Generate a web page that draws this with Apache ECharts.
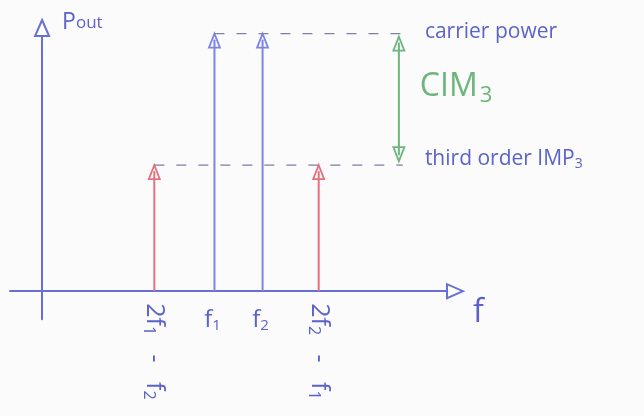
<!DOCTYPE html>
<html>
<head>
<meta charset="utf-8">
<script src="https://cdn.jsdelivr.net/npm/echarts@6/dist/echarts.min.js"></script>
<style>
  html, body { margin: 0; padding: 0; background: #fbfbfc; }
  #chart { width: 644px; height: 416px; }
</style>
</head>
<body>
<div id="chart"></div>
<script>
// Two-tone test spectrum: carriers f1, f2 and third-order intermodulation products
const toneNames = ['2f1 - f2', 'f1', 'f2', '2f2 - f1'];
const toneFreqs = [2.8, 4.3, 5.5, 6.9];
const tonePower = [4.5, 9.2, 9.2, 4.5];
const toneKind = ['im3', 'carrier', 'carrier', 'im3'];

const levelNames = ['carrier power', 'third order IMP3'];
const levelValues = [9.2, 4.5];
const levelStart = [4.3, 2.8];
const levelEnd = 9.0;

const cimName = 'CIM3';
const cimFreq = 8.9;

const axisBlue = '#6870d6';
const penBlue = '#7d84e2';
const penRed = '#e6707e';
const penGreen = '#6db67b';
const textBlue = '#5b63c8';
const dashGrey = '#7d80a0';
const hand = '"Open Sans", "DejaVu Sans", sans-serif';

// rich-text markup for names such as "2f1 - f2" (digits after f are subscripts)
function subMarkup(name) {
  return name.replace(/f(\d)/g, 'f{s|$1}');
}
function richFor(size, color) {
  return {
    s: { fontSize: Math.round(size * 0.62), fill: color, color: color, fontFamily: hand, padding: [size * 0.45, 0, 0, 0] }
  };
}

const toneData = toneFreqs.map((f, i) => [f, tonePower[i], i]);

// open triangular arrow head, tip at (x, y), pointing up (dir = -1) or down (dir = 1)
function head(x, y, dir, color) {
  const h = 14, w = 11;
  return {
    type: 'polygon',
    shape: { points: [[x, y], [x - w / 2, y - dir * h], [x + w / 2, y - dir * h]] },
    style: { fill: 'none', stroke: color, lineWidth: 1.8 }
  };
}

const chart = echarts.init(document.getElementById('chart'), null, { renderer: 'canvas' });

chart.setOption({
  animation: false,
  backgroundColor: '#fbfbfc',
  grid: { left: 10, right: 189, top: 28, bottom: 96.8, outerBoundsMode: 'none', containLabel: false },
  xAxis: {
    type: 'value', min: -0.8, max: 10.3,
    axisLine: { onZero: true, symbol: ['none', 'emptyTriangle'], symbolSize: [14, 16], lineStyle: { color: axisBlue, width: 2 } },
    axisTick: { show: false }, axisLabel: { show: false }, splitLine: { show: false },
    name: 'f', nameLocation: 'end', nameGap: 18,
    nameTextStyle: { color: textBlue, fontSize: 32, fontFamily: hand, verticalAlign: 'top', padding: [6, 0, 0, 0] }
  },
  yAxis: {
    type: 'value', min: -1, max: 9.4,
    axisLine: { onZero: true, symbol: ['none', 'emptyTriangle'], symbolSize: [14, 16], lineStyle: { color: axisBlue, width: 2 } },
    axisTick: { show: false }, axisLabel: { show: false }, splitLine: { show: false },
    name: '{p|P}{o|out}', nameLocation: 'end', nameGap: -6,
    nameTextStyle: {
      align: 'left', verticalAlign: 'bottom', padding: [0, 0, 0, 20],
      rich: {
        p: { fontSize: 23, color: textBlue, fontFamily: hand },
        o: { fontSize: 17, color: textBlue, fontFamily: hand, padding: [2, 0, 0, 0] }
      }
    }
  },
  series: [
    // dashed reference levels with their captions
    ...levelNames.map((nm, i) => ({
      type: 'line',
      data: [[levelStart[i], levelValues[i]], [levelEnd, levelValues[i]]],
      showSymbol: false, silent: true,
      lineStyle: { color: dashGrey, width: 1.3, type: [10, 12] },
      endLabel: {
        show: true, distance: 22, offset: [0, i === 0 ? -2 : -6],
        formatter: () => i === 0 ? nm : '{t|third order IMP}{s|3}',
        color: textBlue, fontSize: 21, fontFamily: hand,
        rich: {
          t: { fontSize: 21, color: textBlue, fontFamily: hand },
          s: { fontSize: 14, color: textBlue, fontFamily: hand, padding: [10, 0, 0, 0] }
        }
      }
    })),
    // spectral lines with open arrow heads and frequency labels
    {
      type: 'custom',
      data: toneData,
      encode: { x: 0, y: 1 },
      z: 3,
      renderItem(params, api) {
        const f = api.value(0), p = api.value(1), idx = api.value(2);
        const base = api.coord([f, 0]);
        const tip = api.coord([f, p]);
        const color = toneKind[idx] === 'carrier' ? penBlue : penRed;
        const name = toneNames[idx];
        const vertical = name.length > 3;
        const size = vertical ? 25 : 24;
        const label = {
          type: 'text',
          x: base[0] + (vertical ? 0 : -2),
          y: base[1] + (vertical ? 12 : 16),
          rotation: vertical ? -Math.PI / 2 : 0,
          style: {
            text: subMarkup(vertical ? name.replace(' - ', '   -   ') : name),
            fill: textBlue,
            fontSize: size,
            fontFamily: hand,
            align: vertical ? 'left' : 'center',
            verticalAlign: vertical ? 'middle' : 'top',
            rich: richFor(size, textBlue)
          }
        };
        return {
          type: 'group',
          children: [
            { type: 'line', shape: { x1: base[0], y1: base[1], x2: tip[0], y2: tip[1] + 6 }, style: { stroke: color, lineWidth: 2 } },
            head(tip[0], tip[1], -1, color),
            label
          ]
        };
      }
    },
    // CIM3 span between carrier and IM3 levels
    {
      type: 'custom',
      data: [[cimFreq, levelValues[0], levelValues[1]]],
      encode: { x: 0, y: [1, 2] },
      z: 3,
      renderItem(params, api) {
        const x = api.value(0);
        const a = api.coord([x, api.value(1)]);
        const b = api.coord([x, api.value(2)]);
        const top = a[1] + 3, bot = b[1] - 4;
        return {
          type: 'group',
          children: [
            { type: 'line', shape: { x1: a[0], y1: top + 6, x2: b[0], y2: bot - 6 }, style: { stroke: penGreen, lineWidth: 2 } },
            head(a[0], top, -1, penGreen),
            head(b[0], bot, 1, penGreen),
            {
              type: 'text',
              x: a[0] + 21, y: (top + bot) / 2 - 12,
              style: {
                text: '{c|CIM}{s|3}',
                align: 'left', verticalAlign: 'middle',
                rich: {
                  c: { fontSize: 32, fill: penGreen, color: penGreen, fontFamily: hand },
                  s: { fontSize: 22, fill: penGreen, color: penGreen, fontFamily: hand, padding: [18, 0, 0, 2] }
                }
              }
            }
          ]
        };
      }
    }
  ]
});
</script>
</body>
</html>
